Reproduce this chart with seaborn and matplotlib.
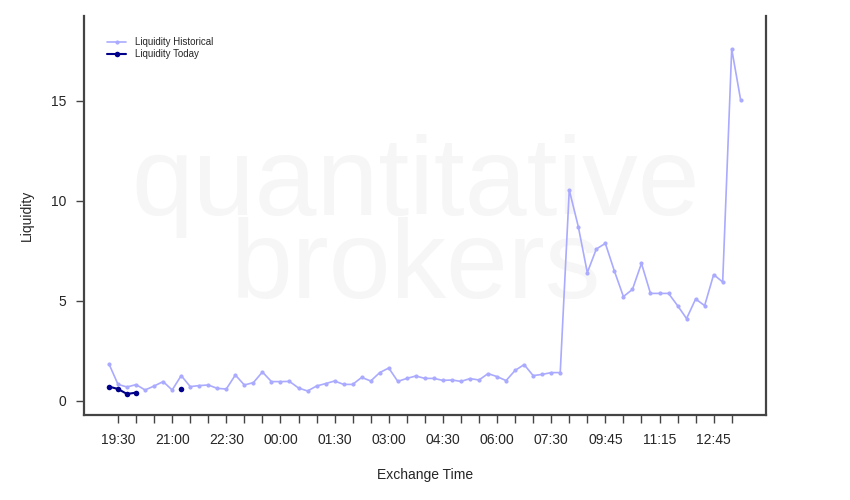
"""
liquidity profile chart
"""

import numpy as np
import seaborn as sns
import matplotlib.pyplot as plt

# Data (one point per 15 minutes, index based)
hist_liquidity = [1.85, 0.83, 0.70, 0.82, 0.55, 0.75, 0.97, 0.55, 1.27, 0.72,
                  0.77, 0.80, 0.63, 0.60, 1.30, 0.80, 0.92, 1.45, 0.97, 0.97,
                  0.98, 0.65, 0.50, 0.75, 0.87, 1.00, 0.83, 0.83, 1.18, 1.00,
                  1.42, 1.65, 0.98, 1.13, 1.25, 1.13, 1.13, 1.03, 1.05, 0.98,
                  1.12, 1.05, 1.37, 1.22, 1.02, 1.53, 1.82, 1.27, 1.33, 1.42,
                  1.42, 10.55, 8.72, 6.42, 7.60, 7.88, 6.50, 5.22, 5.58, 6.88,
                  5.38, 5.38, 5.38, 4.77, 4.12, 5.10, 4.77, 6.32, 5.95, 17.60,
                  15.03]
today_liquidity = [0.72, 0.60, 0.35, 0.42, np.nan, np.nan, np.nan, np.nan, 0.60]
time_labels = ['19:30', '21:00', '22:30', '00:00', '01:30', '03:00',
               '04:30', '06:00', '07:30', '09:45', '11:15', '12:45']

hist_color = '#aaaaff'
today_color = '#00008b'
spine_color = '#444444'

sns.set_style('white')
plt.rcParams['font.family'] = ['Liberation Sans', 'DejaVu Sans']

fig = plt.figure(figsize=(8.5, 5), dpi=100)
ax = fig.add_axes([84 / 850, 1 - 415 / 500, 682 / 850, 399 / 500])

hist_idx = np.arange(len(hist_liquidity))
today_idx = np.arange(len(today_liquidity))

# watermark
ax.text(34.0, 5.15, 'quantitative\nbrokers', fontsize=80, color='#f6f6f6',
        ha='center', va='baseline', multialignment='center',
        linespacing=0.74, zorder=0)

sns.lineplot(x=hist_idx, y=hist_liquidity, ax=ax, color=hist_color,
             marker='o', markersize=3, markeredgewidth=0, linewidth=1.2,
             label='Liquidity Historical', zorder=2)
ax.plot(today_idx, today_liquidity, color=today_color, marker='o',
        markersize=4, markeredgewidth=0, linewidth=1.5,
        label='Liquidity Today', zorder=3)

ax.set_xlim(-2.77, 72.8)
ax.set_ylim(-0.7, 19.25)

# ticks every 30 min, labels every 90 min
tick_pos = np.arange(1, 70, 2)
tick_lbls = [''] * len(tick_pos)
for k, lbl in enumerate(time_labels):
    tick_lbls[3 * k] = lbl
ax.set_xticks(tick_pos)
ax.set_xticklabels(tick_lbls, fontsize=10)
ax.set_yticks([0, 5, 10, 15])
ax.tick_params(axis='both', which='both', direction='out', length=6, width=1,
               color=spine_color, labelsize=10, pad=7, bottom=True, left=True)

for side in ['left', 'right', 'bottom']:
    ax.spines[side].set_color(spine_color)
    ax.spines[side].set_linewidth(1.6)
ax.spines['top'].set_visible(False)

ax.set_xlabel('Exchange Time', fontsize=10, labelpad=15)
ax.set_ylabel('Liquidity', fontsize=10, labelpad=12)

ax.legend(loc='upper left', bbox_to_anchor=(0.028, 0.957), frameon=False,
          fontsize=7, handlelength=2.0, handletextpad=0.9, labelspacing=0.25,
          borderaxespad=0)

plt.savefig('out.png', dpi=100)
plt.close()
